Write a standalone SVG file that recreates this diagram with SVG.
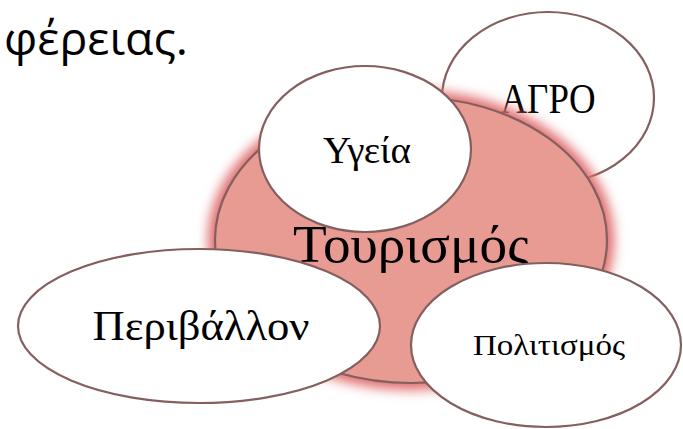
<svg xmlns="http://www.w3.org/2000/svg" width="683" height="429" viewBox="0 0 683 429">
<style>
.node{fill:#FFFFFF;stroke:#855F5F;stroke-width:2.2}
.core{fill:#E89B92;stroke:#855F5F;stroke-width:2.2}
.lbl{font-family:"Liberation Serif","DejaVu Serif",serif;fill:#000;text-anchor:middle}
.body{font-family:"Open Sans","Noto Sans",sans-serif;fill:#000}
</style>
<defs>
<filter id="glow" x="-20%" y="-20%" width="140%" height="140%">
<feGaussianBlur stdDeviation="6"/>
</filter>
</defs>
<rect width="683" height="429" fill="#FFFFFF"/>
<text class="body" x="4" y="55" font-size="46" textLength="184" lengthAdjust="spacingAndGlyphs">φέρειας.</text>
<g id="node-agro">
<ellipse class="node" cx="548" cy="98" rx="106" ry="86"/>
<text class="lbl" x="548" y="113" font-size="42" textLength="95" lengthAdjust="spacingAndGlyphs">ΑΓΡΟ</text>
</g>
<g id="node-tourismos">
<ellipse cx="411" cy="240" rx="203" ry="150" fill="#E06C6C" filter="url(#glow)"/>
<ellipse class="core" cx="411" cy="240" rx="196" ry="143"/>
<text class="lbl" x="411" y="262" font-size="53" textLength="236" lengthAdjust="spacingAndGlyphs">Τουρισμός</text>
</g>
<g id="node-ygeia">
<ellipse class="node" cx="365" cy="149" rx="106" ry="83"/>
<text class="lbl" x="367" y="163" font-size="37" textLength="88" lengthAdjust="spacingAndGlyphs">Υγεία</text>
</g>
<g id="node-perivallon">
<ellipse class="node" cx="199" cy="326" rx="181" ry="77"/>
<text class="lbl" x="201" y="340" font-size="42" textLength="217" lengthAdjust="spacingAndGlyphs">Περιβάλλον</text>
</g>
<g id="node-politismos">
<ellipse class="node" cx="546" cy="345" rx="135" ry="82"/>
<text class="lbl" x="549" y="355" font-size="30" textLength="152" lengthAdjust="spacingAndGlyphs">Πολιτισμός</text>
</g>
<g id="connectors"/>
</svg>
